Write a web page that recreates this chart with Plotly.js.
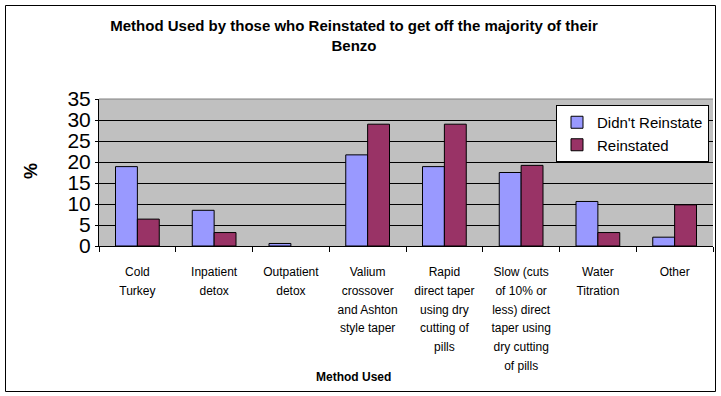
<!DOCTYPE html>
<html>
<head>
<meta charset="utf-8">
<script src="https://cdn.plot.ly/plotly-3.0.1.min.js"></script>
<style>html,body{margin:0;padding:0;background:#fff;}#chart{width:721px;height:396px;}</style>
</head>
<body>
<div id="chart"></div>
<script>
var categories = ["Cold Turkey","Inpatient detox","Outpatient detox","Valium crossover and Ashton style taper","Rapid direct taper using dry cutting of pills","Slow (cuts of 10% or less) direct taper using dry cutting of pills","Water Titration","Other"];
var tickLines = [
  ["Cold","Turkey"],
  ["Inpatient","detox"],
  ["Outpatient","detox"],
  ["Valium","crossover","and Ashton","style taper"],
  ["Rapid","direct taper","using dry","cutting of","pills"],
  ["Slow (cuts","of 10% or","less) direct","taper using","dry cutting","of pills"],
  ["Water","Titration"],
  ["Other"]
];
var didntReinstate = [18.9, 8.5, 0.6, 21.7, 18.9, 17.5, 10.6, 2.1];
var reinstated = [6.4, 3.2, 0, 29.0, 29.0, 19.2, 3.2, 9.8];
var seriesNames = ["Didn't Reinstate", "Reinstated"];
var yTicks = [0,5,10,15,20,25,30,35];

var L = 99, R = 713, T = 99, B = 246;
function px(x){ return (x - L) / (R - L); }
function py(y){ return (B - y) / (B - T); }

var tickText = tickLines.map(function(lines){
  return lines.map(function(s){ return '<span style="font-size:12px">' + s + '</span>'; }).join('<br>');
});

var traces = [
  {type:'bar', name:seriesNames[0], x:categories, y:didntReinstate,
   marker:{color:'#9999FF', line:{color:'#000', width:1}}},
  {type:'bar', name:seriesNames[1], x:categories, y:reinstated,
   marker:{color:'#993366', line:{color:'#000', width:reinstated.map(function(v){ return v > 0 ? 1 : 0; })}}}
];

var layout = {
  width:721, height:396,
  margin:{l:L, r:721-R, t:T, b:396-B},
  paper_bgcolor:'#fff', plot_bgcolor:'#C0C0C0',
  font:{family:'Liberation Sans, Arial, sans-serif', color:'#000'},
  barmode:'group', bargap:0.43, bargroupgap:0,
  showlegend:true,
  title:{text:'<b>Method Used by those who Reinstated to get off the majority of their<br>Benzo</b>',
    font:{size:15, family:'Liberation Sans, Arial, sans-serif', color:'#000'},
    x:354/721, xref:'container', xanchor:'center', y:1-31/396, yref:'container', yanchor:'top'},
  xaxis:{type:'category', tickvals:categories, ticktext:tickText,
    tickfont:{size:14.4}, tickangle:0,
    showline:true, linecolor:'#000', linewidth:1,
    ticks:'outside', tickson:'boundaries', ticklen:5, tickcolor:'#000',
    ticklabelstandoff:12,
    showgrid:false, automargin:false},
  yaxis:{range:[0,35], tickvals:yTicks, ticktext:yTicks.map(String),
    tickfont:{size:21}, showline:true, linecolor:'#000', linewidth:1,
    ticks:'outside', ticklen:3, tickcolor:'#000',
    showgrid:true, gridcolor:'#000', gridwidth:1, zeroline:false, automargin:false},
  legend:{x:px(709), y:py(105), xanchor:'right', yanchor:'top',
    bgcolor:'#fff', bordercolor:'#000', borderwidth:1,
    font:{size:15}, tracegroupgap:0},
  shapes:[
    {type:'line', xref:'paper', yref:'paper', x0:0, x1:1, y0:1, y1:1, line:{color:'#808080', width:1}},
    {type:'rect', xref:'paper', yref:'paper', x0:px(5.5), x1:px(715.5), y0:py(391.5), y1:py(5.5), line:{color:'#000', width:1}, fillcolor:'rgba(0,0,0,0)'}
  ],
  annotations:[
    {text:'<b>Method Used</b>', xref:'paper', yref:'paper', x:px(353), y:py(377), xanchor:'center', yanchor:'middle', showarrow:false, font:{size:12}},
    {text:'<b>%</b>', xref:'paper', yref:'paper', x:px(31), y:py(171), xanchor:'center', yanchor:'middle', showarrow:false, textangle:-90, font:{size:18}}
  ]
};

Plotly.newPlot('chart', traces, layout, {staticPlot:true, displayModeBar:false});
</script>
</body>
</html>
